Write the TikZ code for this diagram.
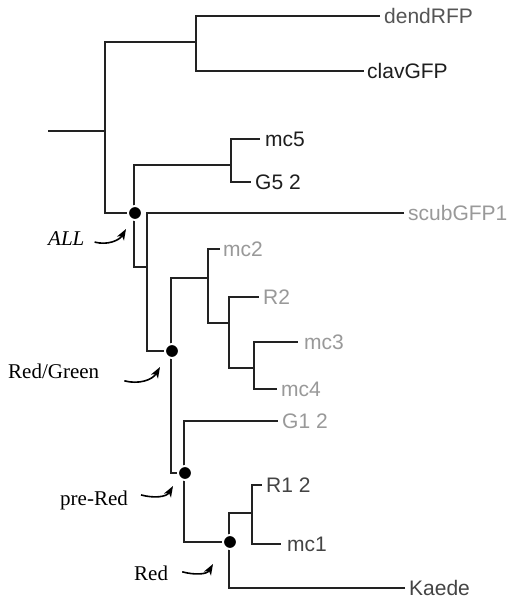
\documentclass[tikz,border=0pt]{standalone}
\usepackage{fontspec}
\setmainfont{Liberation Serif}
\newfontfamily\labelsans{Liberation Sans}
\usetikzlibrary{arrows.meta}
\definecolor{branchc}{HTML}{222222}
\definecolor{tdark}{HTML}{1E1E1E}
\definecolor{tmid}{HTML}{444444}
\definecolor{tgrey}{HTML}{555555}
\definecolor{tlight}{HTML}{999999}
\begin{document}
\begin{tikzpicture}[x=1pt,y=-1pt,
  branch/.style={draw=branchc, line width=2pt},
  heavy/.style={draw=branchc, line width=2.9pt},
  leaf/.style={font=\labelsans\fontsize{21}{25}\selectfont, inner sep=0pt, anchor=west, text height=15pt, text depth=0pt},
  clade/.style={font=\fontsize{21}{25}\selectfont, inner sep=0pt, anchor=base west},
  nodedot/.style={circle, fill=black, draw=white, line width=2pt, minimum size=14pt, inner sep=0pt},
  pointer/.style={draw=black, line width=1.6pt, -{Stealth[length=11pt,width=8pt,inset=3pt]}}]
\useasboundingbox[fill=white] (0,0) rectangle (508,600);

% internal nodes (bar x, attachment y)
\coordinate (root) at (48,131);
\coordinate (A) at (105,131);
\coordinate (B) at (196,42);
\coordinate (ALL) at (134,213);
\coordinate (C) at (231,165);
\coordinate (D) at (147,267);
\coordinate (RG) at (171,351);
\coordinate (E) at (208,278);
\coordinate (F) at (229,323);
\coordinate (G) at (254,368);
\coordinate (PR) at (184,473);
\coordinate (RD) at (229,542);
\coordinate (H) at (252,513);

% leaves
\node[leaf, text=tgrey] (dend) at (384,16) {dendRFP};
\node[leaf, text=tdark] (clav) at (367,71) {clavGFP};
\node[leaf, text=tdark] (mcfive) at (265,139) {mc5};
\node[leaf, text=tdark] (gfive) at (255,182) {G5 2};
\node[leaf, text=tlight] (scub) at (408,213) {scubGFP1};
\node[leaf, text=tlight] (mctwo) at (223,249) {mc2};
\node[leaf, text=tlight] (rtwo) at (263,297) {R2};
\node[leaf, text=tlight] (mcthree) at (304,342) {mc3};
\node[leaf, text=tlight] (mcfour) at (281,389) {mc4};
\node[leaf, text=tlight] (gone) at (282,421) {G1 2};
\node[leaf, text=tmid] (rone) at (266,485) {R1 2};
\node[leaf, text=tmid] (mcone) at (287,544) {mc1};
\node[leaf, text=tmid] (kaede) at (409,588) {Kaede};

% branches
\draw[branch] (root) -- (A);
\draw[branch] (A) |- (B);
\draw[branch] (A) |- (ALL);
\draw[branch] (B) |- ([xshift=-4pt]dend.west);
\draw[branch] (B) |- ([xshift=-3pt]clav.west);
\draw[branch] (ALL) |- (C);
\draw[branch] (ALL) |- (D);
\draw[branch] (C) |- ([xshift=-5pt]mcfive.west);
\draw[branch] (C) |- ([xshift=-4pt]gfive.west);
\draw[branch] (D) |- ([xshift=-4pt]scub.west);
\draw[heavy] ([xshift=-4pt]scub.west) -- ++(-204,0);
\draw[branch] (D) |- (RG);
\draw[branch] (RG) |- (E);
\draw[branch] (RG) |- (PR);
\draw[branch] (E) |- ([xshift=-3pt]mctwo.west);
\draw[branch] (E) |- (F);
\draw[branch] (F) |- ([xshift=-4pt]rtwo.west);
\draw[branch] (F) |- (G);
\draw[branch] (G) |- ([xshift=-6pt]mcthree.west);
\draw[branch] (G) |- ([xshift=-4pt]mcfour.west);
\draw[branch] (PR) |- ([xshift=-4pt]gone.west);
\draw[branch] (PR) |- (RD);
\draw[branch] (RD) |- (H);
\draw[branch] (RD) |- ([xshift=-4pt]kaede.west);
\draw[heavy] ([xshift=-4pt]kaede.west) -- ++(-137,0);
\draw[branch] (H) |- ([xshift=-4pt]rone.west);
\draw[branch] (H) |- ([xshift=-6pt]mcone.west);

% highlighted nodes
\node[nodedot] (dALL) at ([xshift=1pt]ALL) {};
\node[nodedot] (dRG) at ([xshift=1pt]RG) {};
\node[nodedot] (dPR) at ([xshift=1pt]PR) {};
\node[nodedot] (dRD) at ([xshift=1pt]RD) {};

% clade labels
\node[clade, font=\itshape\fontsize{21}{25}\selectfont] (lALL) at (48,245) {ALL};
\node[clade] (lRG) at (8,378) {Red/Green};
\node[clade] (lPR) at (60,505) {pre-Red};
\node[clade] (lRD) at (134,580) {Red};

% pointers
\draw[pointer] ([shift={(10,4)}]lALL.east) to[out=-15,in=-120] ([shift={(-9,16)}]dALL.center);
\draw[pointer] ([shift={(25,10)}]lRG.east) to[out=-15,in=-120] ([shift={(-12,16)}]dRG.center);
\draw[pointer] ([shift={(13,-5)}]lPR.east) to[out=-15,in=-120] ([shift={(-12,13)}]dPR.center);
\draw[pointer] ([shift={(14,-1)}]lRD.east) to[out=-15,in=-120] ([shift={(-17,22)}]dRD.center);
\end{tikzpicture}
\end{document}
